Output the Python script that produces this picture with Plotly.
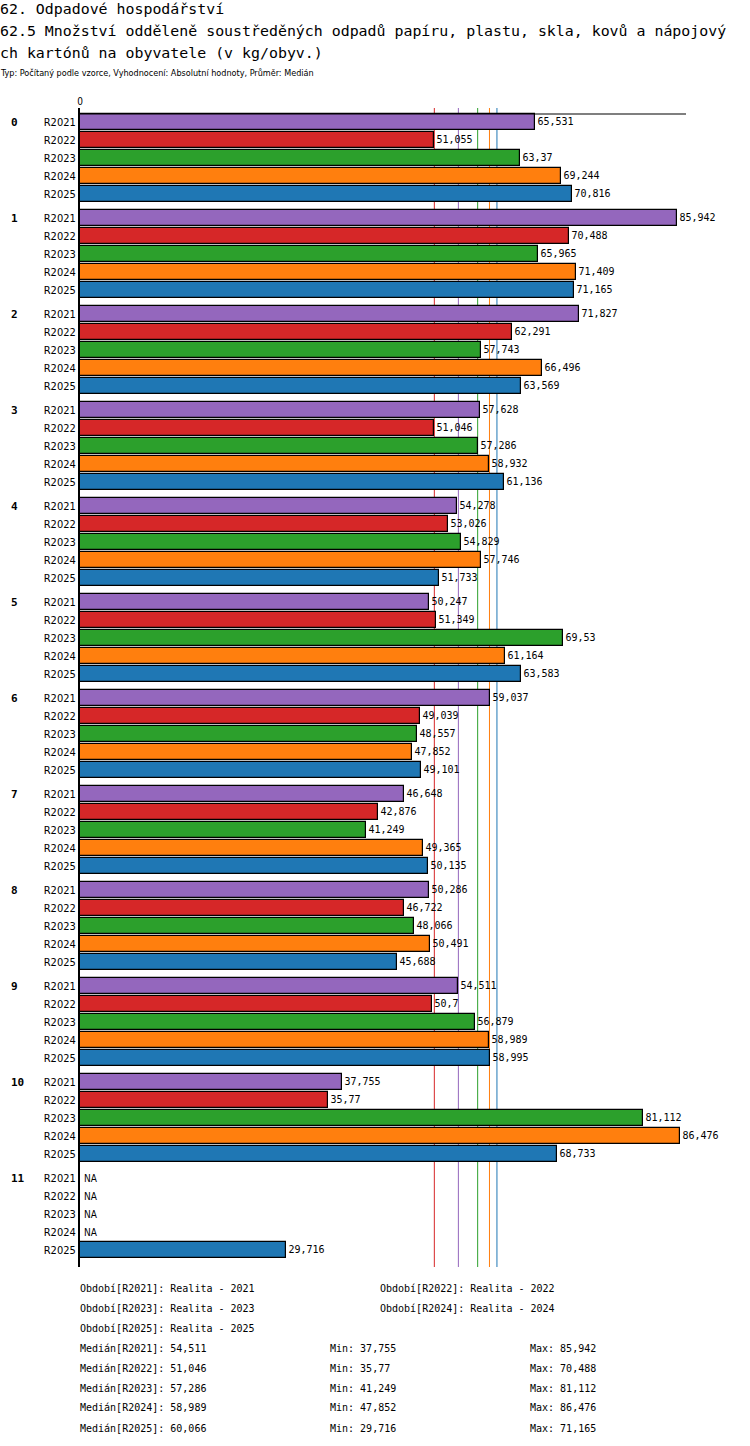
import plotly.graph_objects as go

# data
groups = ['0', '1', '2', '3', '4', '5', '6', '7', '8', '9', '10', '11']
periods = ['R2021', 'R2022', 'R2023', 'R2024', 'R2025']
colors = ['#9467bd', '#d62728', '#2ca02c', '#ff7f0e', '#1f77b4']

r2021 = [65.531, 85.942, 71.827, 57.628, 54.278, 50.247, 59.037, 46.648, 50.286, 54.511, 37.755, None]
r2022 = [51.055, 70.488, 62.291, 51.046, 53.026, 51.349, 49.039, 42.876, 46.722, 50.7, 35.77, None]
r2023 = [63.37, 65.965, 57.743, 57.286, 54.829, 69.53, 48.557, 41.249, 48.066, 56.879, 81.112, None]
r2024 = [69.244, 71.409, 66.496, 58.932, 57.746, 61.164, 47.852, 49.365, 50.491, 58.989, 86.476, None]
r2025 = [70.816, 71.165, 63.569, 61.136, 51.733, 63.583, 49.101, 50.135, 45.688, 58.995, 68.733, 29.716]
series = [r2021, r2022, r2023, r2024, r2025]

medians = [54.511, 51.046, 57.286, 58.989, 60.066]
mins = ['37,755', '35,77', '41,249', '47,852', '29,716']
maxs = ['85,942', '70,488', '81,112', '86,476', '71,165']
median_txt = ['54,511', '51,046', '57,286', '58,989', '60,066']

title1 = '62. Odpadové hospodářství'
title2 = '62.5 Množství odděleně soustředěných odpadů papíru, plastu, skla, kovů a nápojový'
title3 = 'ch kartónů na obyvatele (v kg/obyv.)'
subtitle = 'Typ: Počítaný podle vzorce, Vyhodnocení: Absolutní hodnoty, Průměr: Medián'

MONO = 'DejaVu Sans Mono, monospace'
NARROW = 'Liberation Sans Narrow, DejaVu Sans Condensed, Arial Narrow, sans-serif'

W, H = 750, 1446
L, R, T, B = 80, 64, 108, 179
pw, ph = W - L - R, H - T - B


def px_x(x):
    return (x - L) / pw


def px_y(y):
    return 1 - (y - T) / ph


# y positions: 3 units per bar (18px), 16 units per group (96px)
def pos(g, j):
    return g * 16 + j * 3


bar_w = 16 / 6
xmax = 87.3

fig = go.Figure()
for j, (name, vals) in enumerate(zip(periods, series)):
    ys = [pos(g, j) for g in range(len(groups))]
    fig.add_trace(go.Bar(
        x=[v if v is not None else 0 for v in vals],
        y=ys,
        orientation='h',
        width=bar_w,
        name=name,
        marker=dict(color=colors[j], line=dict(color='black', width=1.2)),
        text=[('%g' % v).replace('.', ',') if v is not None else '' for v in vals],
        textposition='outside',
        textfont=dict(family=MONO, size=10, color='black'),
        constraintext='none',
        cliponaxis=False,
        showlegend=False,
        hoverinfo='skip',
    ))

# median lines (behind bars)
for j, m in enumerate(medians):
    fig.add_shape(type='line', xref='x', yref='paper', x0=m, x1=m, y0=0, y1=1,
                  layer='below', line=dict(color=colors[j], width=1))

# top frame line
fig.add_shape(type='line', xref='paper', yref='y', x0=0, x1=1,
              y0=pos(0, 0) - bar_w / 2, y1=pos(0, 0) - bar_w / 2,
              line=dict(color='black', width=1.2))

ann = []
for g, lab in enumerate(groups):
    ann.append(dict(text='<b>%s</b>' % lab, x=px_x(9), xref='paper', xanchor='left',
                    y=pos(g, 0), yref='y', showarrow=False,
                    font=dict(family=MONO, size=11, color='black')))
    for j, vals in enumerate(series):
        if vals[g] is None:
            ann.append(dict(text='NA', x=0, xref='x', xshift=2, xanchor='left',
                            y=pos(g, j), yref='y', showarrow=False,
                            font=dict(family=NARROW, size=10, color='black')))

for i, t in enumerate([title1, title2, title3]):
    ann.append(dict(text=t, x=px_x(-2), xref='paper', xanchor='left',
                    y=px_y(9 + 22 * i), yref='paper', yanchor='middle', showarrow=False,
                    font=dict(family=MONO, size=14.9, color='black')))
ann.append(dict(text=subtitle, x=px_x(-2), xref='paper', xanchor='left',
                y=px_y(73), yref='paper', yanchor='middle', showarrow=False,
                font=dict(family=NARROW, size=9, color='black')))

# footer
foot = [(80, 1288, 'Období[R2021]: Realita - 2021'),
        (380, 1288, 'Období[R2022]: Realita - 2022'),
        (80, 1308, 'Období[R2023]: Realita - 2023'),
        (380, 1308, 'Období[R2024]: Realita - 2024'),
        (80, 1328, 'Období[R2025]: Realita - 2025')]
for j, p in enumerate(periods):
    yy = 1348 + 20 * j
    foot.append((80, yy, 'Medián[%s]: %s' % (p, median_txt[j])))
    foot.append((330, yy, 'Min: %s' % mins[j]))
    foot.append((530, yy, 'Max: %s' % maxs[j]))
for x, y, t in foot:
    ann.append(dict(text=t, x=px_x(x - 2), xref='paper', xanchor='left',
                    y=px_y(y), yref='paper', yanchor='middle',
                    showarrow=False, font=dict(family=MONO, size=10, color='black')))

ytop = (108 - 122) / 6
ybot = (1267 - 122) / 6

fig.update_layout(
    width=W, height=H,
    margin=dict(l=L, r=R, t=T, b=B, pad=0),
    paper_bgcolor='white', plot_bgcolor='white',
    bargap=0,
    annotations=ann,
    xaxis=dict(range=[0, xmax], side='top', tickvals=[0], ticktext=['0'],
               showgrid=False, zeroline=False, showline=False, ticks='',
               tickfont=dict(family=NARROW, size=10, color='black'), fixedrange=True),
    yaxis=dict(range=[ybot, ytop], tickvals=[pos(g, j) for g in range(len(groups)) for j in range(5)],
               ticktext=[p for g in range(len(groups)) for p in periods],
               showgrid=False, zeroline=False, showline=True, linecolor='black', linewidth=2,
               ticks='', ticklen=0,
               tickfont=dict(family=NARROW, size=11, color='black')),
)

# drop the default body margin so the figure sits at the page corner
fig.write_html('out.html', config={'displayModeBar': False},
               post_script="document.body.style.margin='0';")
